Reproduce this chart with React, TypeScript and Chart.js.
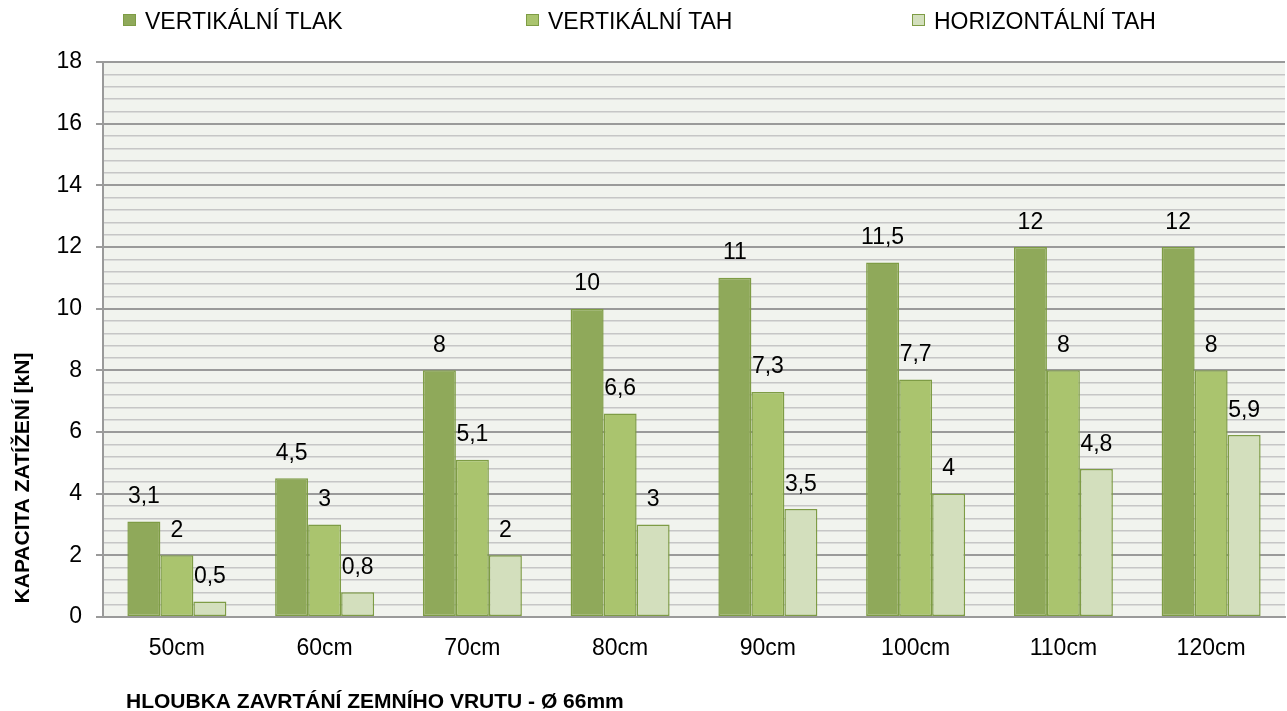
import React, { useEffect, useRef } from "react";
import { Chart, registerables } from "chart.js";

Chart.register(...registerables);

const categories = ["50cm", "60cm", "70cm", "80cm", "90cm", "100cm", "110cm", "120cm"];
const seriesNames = ["VERTIKÁLNÍ TLAK", "VERTIKÁLNÍ TAH", "HORIZONTÁLNÍ TAH"];
const vertikalniTlak = [3.1, 4.5, 8, 10, 11, 11.5, 12, 12];
const vertikalniTah = [2, 3, 5.1, 6.6, 7.3, 7.7, 8, 8];
const horizontalniTah = [0.5, 0.8, 2, 3, 3.5, 4, 4.8, 5.9];
const yTitle = "KAPACITA ZATÍŽENÍ [kN]";
const xTitle = "HLOUBKA ZAVRTÁNÍ ZEMNÍHO VRUTU - Ø 66mm";

const fills = ["#8FA95A", "#AAC46E", "#D3DFBD"];
const borderCol = "#7E9C45";
const FONT = "'Liberation Sans', Arial, sans-serif";

export default function App() {
  const ref = useRef<HTMLCanvasElement>(null);
  useEffect(() => {
    document.body.style.margin = "0";
    const bgPlugin = {
      id: "bg",
      beforeDraw(chart: any) {
        const { ctx, chartArea } = chart;
        ctx.save();
        ctx.fillStyle = "#FFFFFF";
        ctx.fillRect(0, 0, chart.width, chart.height);
        ctx.fillStyle = "#F1F3EE";
        ctx.fillRect(chartArea.left, chartArea.top, chartArea.right - chartArea.left, chartArea.bottom - chartArea.top);
        ctx.restore();
      },
    };
    const labelsPlugin = {
      id: "valueLabels",
      afterDatasetsDraw(chart: any) {
        const { ctx } = chart;
        ctx.save();
        ctx.font = `23px ${FONT}`;
        ctx.fillStyle = "#000";
        ctx.textAlign = "center";
        ctx.textBaseline = "alphabetic";
        chart.data.datasets.forEach((ds: any, di: number) => {
          const meta = chart.getDatasetMeta(di);
          meta.data.forEach((bar: any, i: number) => {
            const v = ds.data[i];
            ctx.fillText(String(v).replace(".", ","), bar.x, bar.y - 18.5);
          });
        });
        ctx.restore();
      },
    };
    const textPlugin = {
      id: "texts",
      afterDraw(chart: any) {
        const { ctx } = chart;
        ctx.save();
        // legend
        const legendX = [123, 526, 912];
        ctx.font = `23px ${FONT}`;
        ctx.textBaseline = "alphabetic";
        ctx.textAlign = "left";
        chart.data.datasets.forEach((ds: any, i: number) => {
          const x = legendX[i];
          ctx.fillStyle = ds.backgroundColor;
          ctx.fillRect(x, 14, 13, 12);
          ctx.strokeStyle = ds.borderColor;
          ctx.lineWidth = 1;
          ctx.strokeRect(x + 0.5, 14.5, 12, 11);
          ctx.fillStyle = "#000";
          ctx.fillText(ds.label, x + 22, 29);
        });
        // x title
        ctx.font = `bold 21px ${FONT}`;
        ctx.fillStyle = "#000";
        ctx.textAlign = "left";
        ctx.fillText(xTitle, 126, 708);
        // y title
        ctx.translate(23, 478);
        ctx.rotate(-Math.PI / 2);
        ctx.textAlign = "center";
        ctx.textBaseline = "middle";
        ctx.fillText(yTitle, 0, 0);
        ctx.restore();
      },
    };
    const chart = new Chart(ref.current!, {
      type: "bar",
      data: {
        labels: categories,
        datasets: [vertikalniTlak, vertikalniTah, horizontalniTah].map((d, i) => ({
          label: seriesNames[i],
          data: d,
          backgroundColor: fills[i],
          borderColor: borderCol,
          borderWidth: 1.5,
          borderSkipped: false,
          categoryPercentage: 0.67,
          barPercentage: 1,
        })),
      },
      options: {
        responsive: false,
        animation: false,
        layout: { padding: { left: 0, right: 2, top: 62, bottom: 44 } },
        plugins: { legend: { display: false }, tooltip: { enabled: false } },
        scales: {
          x: {
            grid: { display: false, drawTicks: false },
            border: { color: "#9A9A9A", width: 2 },
            ticks: { font: { size: 23, family: FONT }, color: "#000", padding: 18 },
            afterFit: (s: any) => { s.height = 50; },
          },
          y: {
            min: 0,
            max: 18,
            border: { color: "#9A9A9A", width: 2 },
            grid: {
              color: (c: any) => (c.index % 5 === 0 ? "#9A9A9A" : "#C6C6C6"),
              lineWidth: (c: any) => (c.index % 5 === 0 ? 2 : 1.5),
              tickColor: (c: any) => (c.index % 5 === 0 ? "#9A9A9A" : "rgba(0,0,0,0)"),
              tickLength: 7,
            },
            ticks: {
              stepSize: 0.4,
              autoSkip: false,
              font: { size: 23, family: FONT },
              color: "#000",
              padding: 14,
              callback: (v: any, i: number) => (i % 5 === 0 ? String(Math.round(Number(v))) : ""),
            },
            afterFit: (s: any) => { s.width = 103; },
          },
        },
      },
      plugins: [bgPlugin, labelsPlugin, textPlugin],
    });
    return () => chart.destroy();
  }, []);
  return <canvas ref={ref} width={1287} height={711} style={{ display: "block" }} />;
}
